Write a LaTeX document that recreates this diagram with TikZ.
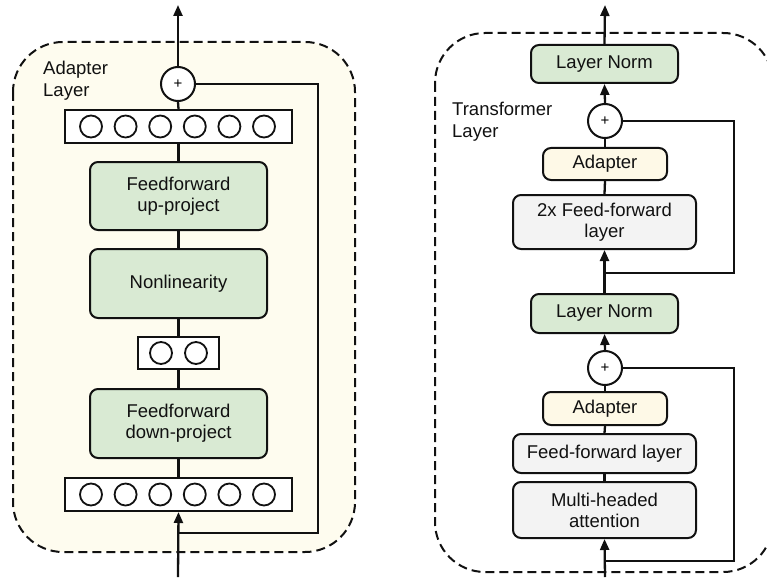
\documentclass[tikz,border=0pt]{standalone}
\usepackage{fontspec}
\setmainfont{Liberation Sans}
\usetikzlibrary{arrows.meta}
\definecolor{panelfill}{HTML}{FEFCEF}
\definecolor{greenfill}{HTML}{D9EAD3}
\definecolor{adapterfill}{HTML}{FEF9E7}
\definecolor{grayfill}{HTML}{F3F3F3}
\definecolor{inkc}{HTML}{111111}
\tikzset{
  ln/.style={line width=2.3pt, draw=inkc},
  arr/.style={ln, -{Triangle[length=11pt,width=9pt]}},
  panel/.style={line width=2pt, draw=inkc, dash pattern=on 9pt off 5pt, rounded corners=50pt},
  blk/.style={draw=inkc, line width=2pt, rounded corners=8pt, align=center,
              font=\fontsize{18.5}{21}\selectfont, inner sep=0pt, text=inkc},
  greenbox/.style={blk, fill=greenfill},
  adbox/.style={blk, fill=adapterfill},
  graybox/.style={blk, fill=grayfill},
  vecbox/.style={draw=inkc, line width=2pt, fill=white, inner sep=0pt},
  unit/.style={circle, draw=inkc, line width=1.8pt, minimum size=22pt, inner sep=0pt},
  plusnode/.style={circle, draw=inkc, line width=2pt, fill=white, minimum size=34pt,
              inner sep=0pt, font=\fontsize{15}{15}\selectfont},
  lbl/.style={align=left, anchor=west, inner sep=0pt, text=inkc,
              font=\fontsize{18.5}{22}\selectfont}
}
\begin{document}
\begin{tikzpicture}[x=1pt,y=-1pt]
\useasboundingbox (0,0) rectangle (767,580);
\begin{scope}
\clip (0,0) rectangle (767,580);
% panels
\draw[panel, fill=panelfill] (13,42) rectangle (355,552);
\draw[panel] (435,33) rectangle (773,572);
\end{scope}

% ---------- left: adapter layer ----------
\node[lbl] (adlbl) at (43,81) {Adapter\\Layer};
\node[plusnode] (plusL) at (178,84) {+};
\node[vecbox, minimum width=227pt, minimum height=33pt] (vtop) at (178.5,126.5) {};
\node[greenbox, minimum width=177pt, minimum height=68pt] (ffup) at (178.5,196) {Feedforward\\up-project};
\node[greenbox, minimum width=177pt, minimum height=69pt] (nonlin) at (178.5,283.5) {Nonlinearity};
\node[vecbox, minimum width=81pt, minimum height=32pt] (vmid) at (178.5,353) {};
\node[greenbox, minimum width=177pt, minimum height=69pt] (ffdown) at (178.5,423.5) {Feedforward\\down-project};
\node[vecbox, minimum width=227pt, minimum height=33pt] (vbot) at (178.5,494.5) {};
\foreach \i in {0,...,5}{
  \node[unit] (ut\i) at ({91+34.6*\i},126.5) {};
  \node[unit] (ub\i) at ({91+34.6*\i},494.5) {};
}
\node[unit] (um0) at (161,353) {};
\node[unit] (um1) at (196,353) {};

\coordinate (outL) at (178,5);
\coordinate (inL) at (178,577);
\coordinate (brL) at (178,533);
\coordinate (brLr) at (318,533);
\coordinate (brLt) at (318,84);

\draw[arr] (plusL.north) -- (outL);
\draw[ln] (vtop.north) -- (plusL.south);
\draw[ln] (ffup.north) -- (vtop.south);
\draw[ln] (nonlin.north) -- (ffup.south);
\draw[ln] (vmid.north) -- (nonlin.south);
\draw[ln] (ffdown.north) -- (vmid.south);
\draw[ln] (vbot.north) -- (ffdown.south);
\draw[arr] (inL) -- (vbot.south);
\draw[ln] (brL) -- (brLr) -- (brLt) -- (plusL.east);

% ---------- right: transformer layer ----------
\node[lbl] (trlbl) at (452,121.5) {Transformer\\Layer};
\node[greenbox, minimum width=147pt, minimum height=38pt] (ln2) at (604.5,64) {Layer Norm};
\node[plusnode] (plus2) at (605,121) {+};
\node[adbox, minimum width=124pt, minimum height=32pt] (ad2) at (605,164) {Adapter};
\node[graybox, minimum width=183pt, minimum height=54pt] (ff2) at (604.5,222) {2x Feed-forward\\layer};
\node[greenbox, minimum width=147pt, minimum height=39pt] (ln1) at (604.5,313.5) {Layer Norm};
\node[plusnode] (plus1) at (605,368) {+};
\node[adbox, minimum width=124pt, minimum height=33pt] (ad1) at (605,408.5) {Adapter};
\node[graybox, minimum width=183pt, minimum height=39pt] (ff1) at (604.5,453.5) {Feed-forward layer};
\node[graybox, minimum width=183pt, minimum height=56pt] (mha) at (604.5,510) {Multi-headed\\attention};

\coordinate (outR) at (605,5);
\coordinate (inR) at (605,577);
\coordinate (br2) at (605,273);
\coordinate (br2r) at (734,273);
\coordinate (br2t) at (734,121);
\coordinate (br1) at (605,561);
\coordinate (br1r) at (734,561);
\coordinate (br1t) at (734,368);

\draw[arr] (ln2.north) -- (outR);
\draw[arr] (plus2.north) -- (ln2.south);
\draw[ln] (ad2.north) -- (plus2.south);
\draw[ln] (ff2.north) -- (ad2.south);
\draw[arr] (ln1.north) -- (ff2.south);
\draw[ln] (br2) -- (br2r) -- (br2t) -- (plus2.east);
\draw[arr] (plus1.north) -- (ln1.south);
\draw[ln] (ad1.north) -- (plus1.south);
\draw[ln] (ff1.north) -- (ad1.south);
\draw[ln] (mha.north) -- (ff1.south);
\draw[arr] (inR) -- (mha.south);
\draw[ln] (br1) -- (br1r) -- (br1t) -- (plus1.east);
\end{tikzpicture}
\end{document}
